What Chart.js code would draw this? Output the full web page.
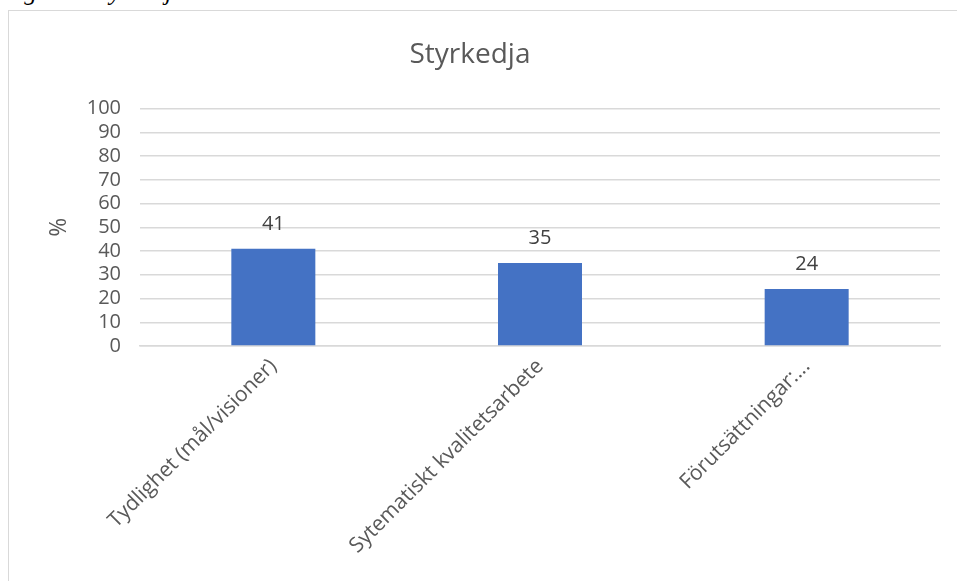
<!DOCTYPE html>
<html><head><meta charset="utf-8">
<script src="https://cdn.jsdelivr.net/npm/chart.js@4"></script>
<style>
html,body{margin:0;padding:0;background:#fff;overflow:hidden;width:957px;height:581px;}
#cap{position:absolute;left:2px;top:-22px;font-family:"Liberation Serif","DejaVu Serif",serif;font-style:italic;font-size:25px;color:#000;white-space:nowrap;}
#box{position:absolute;left:8px;top:10px;width:970px;height:600px;border:1.5px solid #d9d9d9;box-sizing:border-box;}
#wrap{position:absolute;left:0;top:0;width:957px;height:581px;}
</style></head><body>
<div id="cap">Figur 4. Styrkedja</div>
<div id="box"></div>
<div id="wrap"><canvas id="c"></canvas></div>
<script>
const categories = ["Tydlighet (mål/visioner)", "Sytematiskt kvalitetsarbete", "Förutsättningar:..."];
const values = [41, 35, 24];
const yTicks = [0,10,20,30,40,50,60,70,80,90,100];

const FONT = '"Open Sans", sans-serif';
const labelPlugin = {
  id:'vals',
  afterDatasetsDraw(chart){
    const ctx = chart.ctx;
    const meta = chart.getDatasetMeta(0);
    ctx.save();
    ctx.font = '20px ' + FONT;
    ctx.fillStyle = '#404040';
    ctx.textAlign = 'center';
    ctx.textBaseline = 'alphabetic';
    meta.data.forEach((bar,i)=>{
      ctx.fillText(String(values[i]), bar.x, bar.y - 19);
    });
    ctx.restore();
  }
};

new Chart(document.getElementById('c'), {
  type:'bar',
  data:{labels:categories, datasets:[{data:values, backgroundColor:'#4472c4', barPercentage:0.63, categoryPercentage:0.5}]},
  options:{
    responsive:true, maintainAspectRatio:false, animation:false,
    devicePixelRatio:1,
    layout:{padding:{left:0,right:17,top:0,bottom:0}},
    plugins:{
      legend:{display:false},
      tooltip:{enabled:false},
      title:{display:true,text:'Styrkedja',color:'#595959',font:{family:FONT,size:28,weight:'normal'},padding:{top:38,bottom:37}}
    },
    scales:{
      x:{
        afterFit(s){ s.height = 235; },
        grid:{display:false, drawTicks:false},
        border:{color:'#d9d9d9',width:1.5},
        ticks:{color:'#595959',font:{family:FONT,size:21},maxRotation:45,minRotation:45,padding:8,autoSkip:false}
      },
      y:{
        min:0,max:100,
        afterFit(s){ s.width = 140; },
        afterBuildTicks(s){ s.ticks = yTicks.map(v=>({value:v})); },
        grid:{color:'#d9d9d9',lineWidth:1.5,drawTicks:false},
        border:{display:false},
        title:{display:true,text:'%',color:'#595959',font:{family:FONT,size:23},padding:{top:46,bottom:0}},
        ticks:{color:'#595959',font:{family:FONT,size:20},padding:19,autoSkip:false,stepSize:10}
      }
    }
  },
  plugins:[labelPlugin]
});
</script>
</body></html>
